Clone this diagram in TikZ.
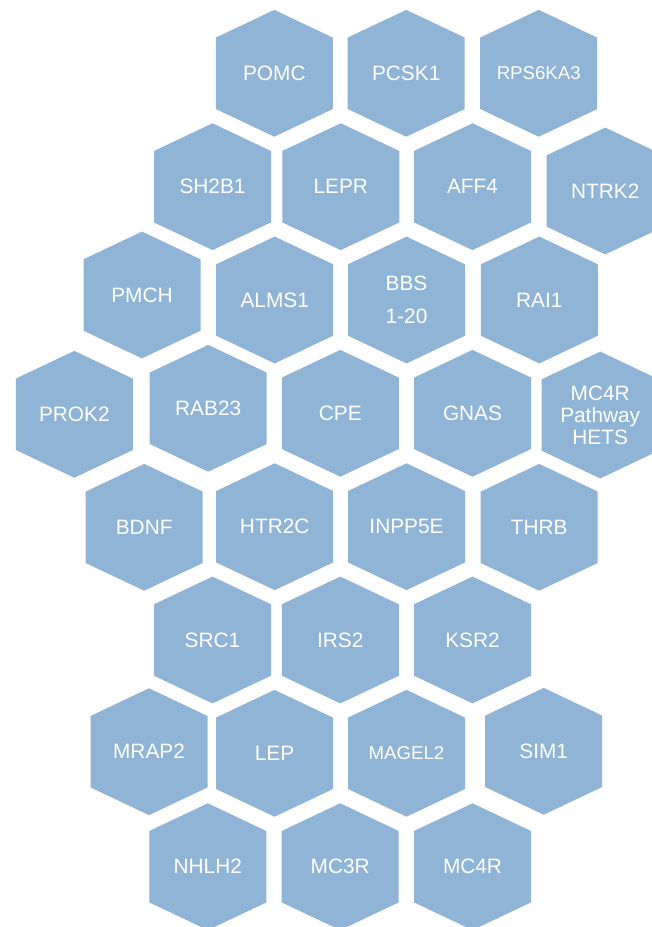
\documentclass[tikz,border=0pt]{standalone}
\usepackage{fontspec}
\setmainfont{Liberation Sans}
\definecolor{hexblue}{RGB}{143,180,214}
\tikzset{
  hexfill/.style={fill=hexblue},
  hexlabel/.style={text=white, inner sep=0pt, align=center, font=\fontsize{20.9}{24}\selectfont},
  smalllabel/.style={font=\fontsize{18.7}{22}\selectfont},
  widelines/.style={font=\fontsize{20.9}{32.7}\selectfont},
  tightlines/.style={font=\fontsize{20.9}{22}\selectfont},
}
\newcommand\hexcell[4][]{%
  \fill[hexfill] (#3) ++(0,-63.4) -- ++(58.5,27.7) -- ++(0,71.4) -- ++(-58.5,27.7) -- ++(-58.5,-27.7) -- ++(0,-71.4) -- cycle;
  \node[hexlabel,#1] (#2) at (#3) {#4};}
\begin{document}
\begin{tikzpicture}[x=1bp,y=-1bp]
\clip (0,0) rectangle (652,927);
\fill[white] (0,0) rectangle (652,927);
% row 1
\hexcell{pomc}{274.3,73.3}{POMC}
\hexcell{pcsk1}{406.2,73.3}{PCSK1}
\hexcell[smalllabel]{rps6ka3}{538.7,73.3}{RPS6KA3}
% row 2
\hexcell{sh2b1}{212.5,186.7}{SH2B1}
\hexcell{lepr}{340.8,186.7}{LEPR}
\hexcell{aff4}{472.5,186.7}{AFF4}
\hexcell{ntrk2}{605.2,191}{NTRK2}
% row 3
\hexcell{pmch}{142,295}{PMCH}
\hexcell{alms1}{274.7,300}{ALMS1}
\hexcell[widelines]{bbs}{406.5,300}{BBS\\1-20}
\hexcell{rai1}{539.3,300}{RAI1}
% row 4
\hexcell{prok2}{74.3,414.3}{PROK2}
\hexcell{rab23}{208.2,408.3}{RAB23}
\hexcell{cpe}{340.3,413.3}{CPE}
\hexcell{gnas}{472.5,413.3}{GNAS}
\hexcell[tightlines]{hets}{600.2,415}{MC4R\\Pathway\\HETS}
% row 5
\hexcell{bdnf}{144.2,527.3}{BDNF}
\hexcell{htr2c}{274.7,526.7}{HTR2C}
\hexcell{inpp5e}{406.5,526.7}{INPP5E}
\hexcell{thrb}{539.2,527.3}{THRB}
% row 6
\hexcell{src1}{212.5,640}{SRC1}
\hexcell{irs2}{340.3,640}{IRS2}
\hexcell{ksr2}{472.5,640}{KSR2}
% row 7
\hexcell{mrap2}{149,751.7}{MRAP2}
\hexcell{lep}{274.5,753.3}{LEP}
\hexcell[smalllabel]{magel2}{406.5,753.3}{MAGEL2}
\hexcell{sim1}{543.7,751.3}{SIM1}
% row 8
\hexcell{nhlh2}{207.8,866.7}{NHLH2}
\hexcell{mc3r}{340.2,866.7}{MC3R}
\hexcell{mc4r}{472.5,866.7}{MC4R}
\end{tikzpicture}
\end{document}
